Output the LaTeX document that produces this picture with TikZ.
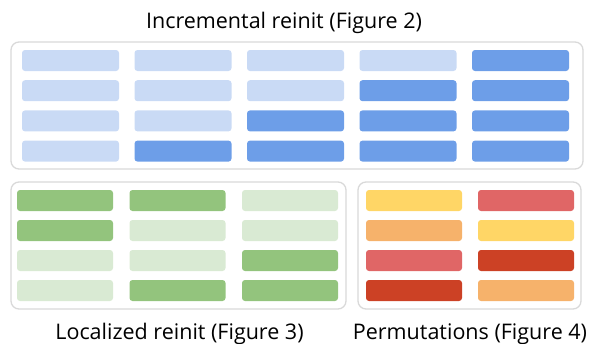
\documentclass[tikz,border=0pt]{standalone}
\usepackage{fontspec}
\setmainfont{Open Sans}
\usepackage{tikz}

\definecolor{blueLight}{HTML}{C9DAF5}
\definecolor{blueDark}{HTML}{6D9EE8}
\definecolor{greenLight}{HTML}{D9EAD3}
\definecolor{greenDark}{HTML}{93C47D}
\definecolor{permYellow}{HTML}{FFD666}
\definecolor{permOrange}{HTML}{F6B26B}
\definecolor{permPink}{HTML}{E06666}
\definecolor{permRed}{HTML}{CC4125}
\definecolor{panelGray}{HTML}{D9D9D9}

\tikzset{
  panel/.style={draw=panelGray, line width=1.3pt, rounded corners=8pt, inner sep=0pt},
  bar/.style={rounded corners=3pt, minimum height=21pt, inner sep=0pt},
  caption/.style={font=\fontsize{21.5}{24}\selectfont, anchor=base, inner sep=0pt}
}

\begin{document}
\begin{tikzpicture}[x=1pt, y=-1pt]
  \useasboundingbox (0,0) rectangle (591,343);

  % Incremental reinit
  \node[panel, minimum width=572pt, minimum height=127pt] (incPanel) at (297,105.5) {};
  \foreach \r in {1,...,4} {
    \foreach \c in {1,...,5} {
      \pgfmathtruncatemacro{\dark}{\r+\c>5 ? 1 : 0}
      \ifnum\dark=1 \def\barcol{blueDark}\else\def\barcol{blueLight}\fi
      \node[bar, fill=\barcol, minimum width=97pt] (inc-\r-\c) at ({70.5+112.5*(\c-1)},{60.5+30.2*(\r-1)}) {};
    }
  }
  \node[caption] (incLabel) at (284,28) {Incremental reinit (Figure 2)};

  % Localized reinit
  \node[panel, minimum width=335pt, minimum height=127pt] (locPanel) at (178.5,245.5) {};
  \foreach \r/\colA/\colB/\colC in {1/greenDark/greenDark/greenLight,
                                     2/greenDark/greenLight/greenLight,
                                     3/greenLight/greenLight/greenDark,
                                     4/greenLight/greenDark/greenDark} {
    \node[bar, fill=\colA, minimum width=96pt] (loc-\r-1) at (65,{200.5+30*(\r-1)}) {};
    \node[bar, fill=\colB, minimum width=96pt] (loc-\r-2) at (177.5,{200.5+30*(\r-1)}) {};
    \node[bar, fill=\colC, minimum width=96pt] (loc-\r-3) at (290,{200.5+30*(\r-1)}) {};
  }
  \node[caption] (locLabel) at (179.5,339) {Localized reinit (Figure 3)};

  % Permutations
  \node[panel, minimum width=223pt, minimum height=127pt] (permPanel) at (469.5,245.5) {};
  \foreach \r/\colA/\colB in {1/permYellow/permPink,
                              2/permOrange/permYellow,
                              3/permPink/permRed,
                              4/permRed/permOrange} {
    \node[bar, fill=\colA, minimum width=96pt] (perm-\r-1) at (414,{200.5+30*(\r-1)}) {};
    \node[bar, fill=\colB, minimum width=96pt] (perm-\r-2) at (526,{200.5+30*(\r-1)}) {};
  }
  \node[caption] (permLabel) at (470,339) {Permutations (Figure 4)};

\end{tikzpicture}
\end{document}
